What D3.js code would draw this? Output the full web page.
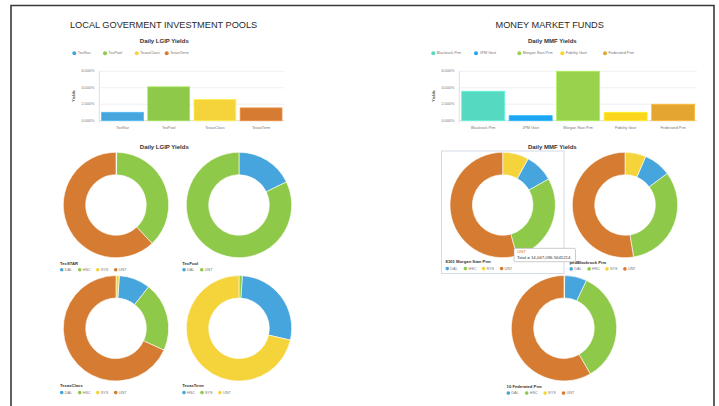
<!DOCTYPE html>
<html><head><meta charset="utf-8">
<script src="https://cdn.jsdelivr.net/npm/d3@7"></script>
<style>
html,body{margin:0;padding:0;background:#fff;}
svg{display:block;font-family:"Liberation Sans",Arial,sans-serif;}
</style></head>
<body>
<svg id="c" width="719" height="406"></svg>
<script>
// ---------- DATA ----------
const lgipNames = ["TexStar","TexPool","TexasClass","TexasTerm"];
const lgipYields = [0.0102, 0.0411, 0.0256, 0.0155];
const lgipColors = ["#45a5dc","#8fc94a","#f5d43b","#d57b32"];

const mmfNames = ["Blackrock Prm","JPM Govt","Morgan Stan Prm","Fidelity Govt","Federated Prm"];
const mmfYields = [0.0358, 0.0061, 0.0600, 0.0102, 0.0200];
const mmfColors = ["#55d9c0","#1ea5f2","#99d34d","#fcd51e","#e4a630"];

const yTicks = [0, 0.02, 0.04, 0.06];

const donutPalette = ["#45a5dc","#8fc94a","#f5d43b","#d57b32"];

const texstarLabels = ["DAL","HSC","SYS","UNT"];
const texstarValues = [0.2, 37.8, 0, 62.0];
const texpoolLabels = ["DAL","UNT"];
const texpoolValues = [17.8, 82.2];
const texasclassLabels = ["DAL","HSC","SYS","UNT"];
const texasclassValues = [9.6, 21.2, 1.0, 68.2];
const texastermLabels = ["HSC","SYS","UNT"];
const texastermValues = [27.6, 1.0, 71.4];

const morganLabels = ["DAL","HSC","SYS","UNT"];
const morganValues = [8.8, 28.9, 8.0, 54.3];
const blackrockLabels = ["DAL","HSC","SYS","UNT"];
const blackrockValues = [8.4, 32.6, 6.4, 52.6];
const federatedLabels = ["DAL","HSC","SYS","UNT"];
const federatedValues = [6.8, 34.7, 0.2, 58.3];

// ---------- DRAW ----------
const svg = d3.select("#c");

// page frame
svg.append("path").attr("d","M11,420 L11,5.5 L714,5.5 L714,420")
  .attr("fill","none").attr("stroke","#3a3a3a").attr("stroke-width",1.6);

function text(x,y,t,opts,parent){
  const o = Object.assign({size:4,fill:"#666",anchor:"start",weight:"normal"},opts||{});
  return (parent||svg).append("text").attr("x",x).attr("y",y).text(t)
    .attr("font-size",o.size).attr("fill",o.fill).attr("text-anchor",o.anchor)
    .attr("font-weight",o.weight).attr("dominant-baseline","middle");
}

// headings
text(70,25.5,"LOCAL GOVERMENT INVESTMENT POOLS",{size:9.2,fill:"#2a2a2a"});
text(549.7,25.5,"MONEY MARKET FUNDS",{size:9.2,fill:"#2a2a2a",anchor:"middle"});

function barChart(cfg){
  text(cfg.titleX,41,cfg.title,{size:6,fill:"#333",weight:"bold",anchor:"middle"});
  // legend
  cfg.names.forEach((n,i)=>{
    svg.append("circle").attr("cx",cfg.legendX[i]).attr("cy",53.2).attr("r",2)
      .attr("fill",cfg.colors[i]);
    text(cfg.legendX[i]+3.5,53.3,n,{size:3.8,fill:"#777"});
  });
  const x = d3.scaleBand().domain(cfg.names).range([cfg.x0,cfg.x1]).paddingInner(0.095).paddingOuter(0.05);
  const y = d3.scaleLinear().domain([0,0.06]).range([120.7,71.3]);
  const g = svg.append("g");
  // grid
  g.selectAll("line.grid").data(yTicks).join("line")
    .attr("x1",cfg.x0).attr("x2",cfg.x1).attr("y1",d=>y(d)).attr("y2",d=>y(d))
    .attr("stroke",d=>d===0?"#d8d8d8":"#ececec").attr("stroke-width",0.8);
  g.append("line").attr("x1",cfg.x0).attr("x2",cfg.x0).attr("y1",y(0.06)).attr("y2",y(0)+2)
    .attr("stroke","#d8d8d8").attr("stroke-width",0.8);
  // y axis ticks
  const fmt = d3.format(".3%");
  yTicks.forEach(t=>{
    text(cfg.x0-5,y(t),fmt(t),{size:3.8,fill:"#777",anchor:"end"});
  });
  // y label
  svg.append("text").attr("transform",`translate(${cfg.x0-25},${(y(0)+y(0.06))/2}) rotate(-90)`)
    .attr("text-anchor","middle").attr("dominant-baseline","middle")
    .attr("font-size",4).attr("font-weight","bold").attr("fill","#444").text("Yields");
  // bars
  g.selectAll("rect.bar").data(cfg.values).join("rect")
    .attr("x",(d,i)=>x(cfg.names[i])).attr("width",x.bandwidth())
    .attr("y",d=>y(d)).attr("height",d=>y(0)-y(d))
    .attr("fill",(d,i)=>cfg.colors[i])
    .attr("stroke",(d,i)=>d3.color(cfg.colors[i]).brighter(0.35)).attr("stroke-width",0.8);
  // category labels
  cfg.names.forEach(n=>{
    text(x(n)+x.bandwidth()/2,128,n,{size:3.8,fill:"#777",anchor:"middle"});
  });
}

barChart({title:"Daily LGIP Yields",titleX:164.3,names:lgipNames,values:lgipYields,colors:lgipColors,
  legendX:[74.3,105,136.7,166.7],x0:99.3,x1:284.3});
barChart({title:"Daily MMF Yields",titleX:552.3,names:mmfNames,values:mmfYields,colors:mmfColors,
  legendX:[433.3,476,519.3,562.3,605],x0:459.3,x1:697});

// donut section titles
text(164.3,147,"Daily LGIP Yields",{size:6,fill:"#333",weight:"bold",anchor:"middle"});
text(552.3,147,"Daily MMF Yields",{size:6,fill:"#333",weight:"bold",anchor:"middle"});

// hover highlight box around Morgan Stan panel
svg.append("rect").attr("x",441.5).attr("y",151).attr("width",122.5).attr("height",122.5)
  .attr("fill","none").attr("stroke","#c9d3e0").attr("stroke-width",0.8);

const pie = d3.pie().sort((a,b)=>{
  // SYS slice is drawn first, then the legend order
  const ra = a.label==="SYS"?-1:a.idx, rb = b.label==="SYS"?-1:b.idx;
  return ra-rb;
}).value(d=>d.value);

const arcLayer = svg.append("g");
const tipLayer = svg.append("g");
const labelLayer = svg.append("g");

function donut(cx,cy,title,labels,values,labelX,labelY,legendX){
  const rOuter = 52.7, rInner = 30.3;
  const data = labels.map((l,i)=>({label:l,value:values[i],idx:i}));
  const arc = d3.arc().innerRadius(rInner).outerRadius(rOuter);
  arcLayer.append("g").attr("transform",`translate(${cx},${cy})`)
    .selectAll("path").data(pie(data)).join("path")
    .attr("d",arc).attr("fill",d=>donutPalette[d.data.idx])
    .attr("stroke","#fff").attr("stroke-width",0.6);
  text(labelX,labelY,title,{size:4.2,fill:"#333",weight:"600"},labelLayer);
  labels.forEach((l,i)=>{
    const lx = labelX+1.7+i*legendX;
    labelLayer.append("circle").attr("cx",lx).attr("cy",labelY+6.3).attr("r",1.8).attr("fill",donutPalette[i]);
    text(lx+3,labelY+6.4,l,{size:3.8,fill:"#777"},labelLayer);
  });
}

donut(116,205,"TexSTAR",texstarLabels,texstarValues,60,263.5,18);
donut(239,205,"TexPool",texpoolLabels,texpoolValues,182.3,263.5,17.7);
donut(116,328.3,"TexasClass",texasclassLabels,texasclassValues,60,386.3,18);
donut(239,328.3,"TexasTerm",texastermLabels,texastermValues,182.3,386.3,18);

donut(502.7,205,"8301 Morgan Stan Prm",morganLabels,morganValues,445.6,262.3,18.1);
donut(625,205,"pedBlackrock Prm",blackrockLabels,blackrockValues,569.5,262.6,17.9);
donut(564,328.2,"10 Federated Prm",federatedLabels,federatedValues,506.6,386.8,18.4);

// tooltip
const tip = tipLayer.append("g").attr("transform","translate(514,248.3)");
tip.append("rect").attr("width",61.5).attr("height",13.4).attr("rx",1.5)
  .attr("fill","#fff").attr("stroke","#aaa").attr("stroke-width",0.6);
tip.append("text").attr("x",3).attr("y",3.8).attr("font-size",4.4).attr("fill","#d57b32")
  .attr("dominant-baseline","middle").text("UNT");
tip.append("text").attr("x",3).attr("y",9.6).attr("font-size",4.3).attr("fill","#333")
  .attr("dominant-baseline","middle").text("Total = 14,047,096.5645214");
</script>
</body></html>
